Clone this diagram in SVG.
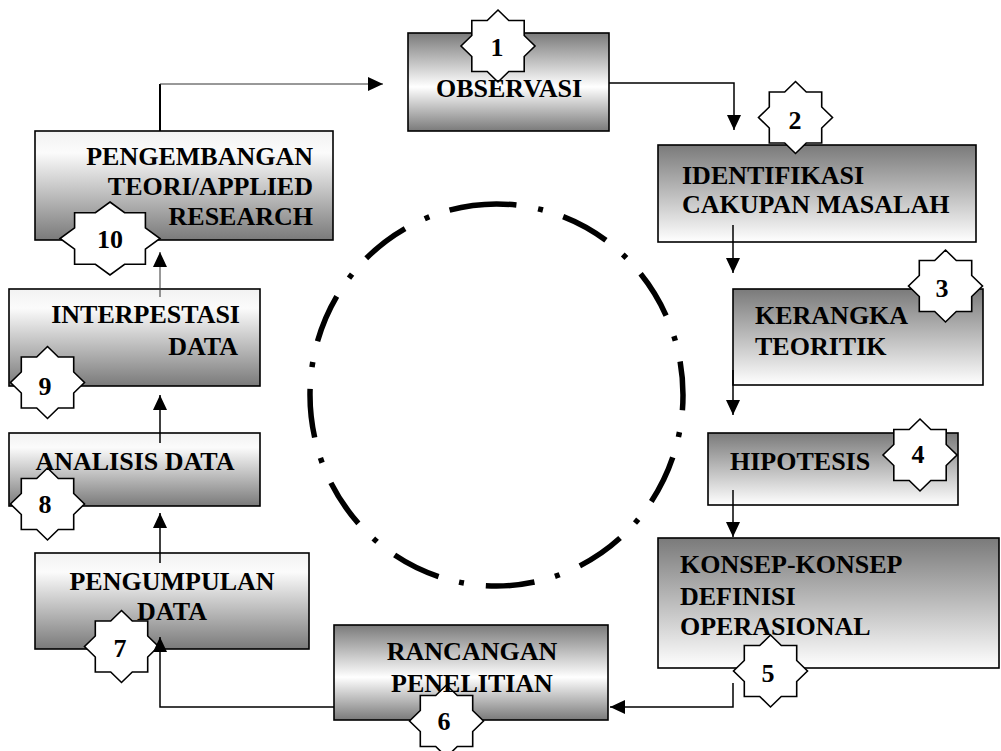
<svg xmlns="http://www.w3.org/2000/svg" xmlns:xlink="http://www.w3.org/1999/xlink" width="1001" height="751" viewBox="0 0 1001 751">
<style>
.box{stroke:#000;stroke-width:1.6}
.star{fill:#fff;stroke:#000;stroke-width:1.6}
.lbl{font-family:"Liberation Serif","Times New Roman",serif;font-weight:bold;font-size:26px;fill:#000}
.num{font-family:"Liberation Serif","Times New Roman",serif;font-weight:bold;font-size:26px;fill:#000;text-anchor:middle}
.con{fill:none;stroke:#000;stroke-width:1.5}
.thin{fill:none;stroke:#333;stroke-width:1}
</style>
<defs>
<linearGradient id="gSym" x1="0" y1="0" x2="0" y2="1">
<stop offset="0" stop-color="#7a7a7a"/><stop offset="0.55" stop-color="#ffffff"/><stop offset="1" stop-color="#7a7a7a"/>
</linearGradient>
<linearGradient id="gDown" x1="0" y1="0" x2="0" y2="1">
<stop offset="0" stop-color="#7a7a7a"/><stop offset="1" stop-color="#ffffff"/>
</linearGradient>
<linearGradient id="gUp" x1="0" y1="0" x2="0" y2="1">
<stop offset="0" stop-color="#f2f2f2"/><stop offset="0.2" stop-color="#fbfbfb"/><stop offset="1" stop-color="#7a7a7a"/>
</linearGradient>
<marker id="arr" markerUnits="userSpaceOnUse" markerWidth="16" markerHeight="16" refX="15" refY="7" orient="auto">
<path d="M0,0 L15,7 L0,14 Z" fill="#000"/>
</marker>
<polygon id="star" class="star" points="0,-36 10.8,-25.5 26.2,-25.5 26.2,-10.5 37,0 26.2,10.5 26.2,25.5 10.8,25.5 0,36 -10.8,25.5 -26.2,25.5 -26.2,10.5 -37,0 -26.2,-10.5 -26.2,-25.5 -10.8,-25.5"/>
<polygon id="starW" class="star" points="0,-36.5 14.6,-25.8 35.4,-25.8 35.4,-10.7 50,0 35.4,10.7 35.4,25.8 14.6,25.8 0,36.5 -14.6,25.8 -35.4,25.8 -35.4,10.7 -50,0 -35.4,-10.7 -35.4,-25.8 -14.6,-25.8"/>
</defs>
<rect width="1001" height="751" fill="#fff"/>

<path id="cycle" d="M496.5,204 A186.5,191 0 1 1 496.5,586 A186.5,191 0 1 1 496.5,204" fill="none" stroke="#000" stroke-width="5.5" stroke-dasharray="49 22 5 21.25" stroke-dashoffset="29"/>

<g id="node1">
<rect class="box" x="408" y="33" width="201" height="98" fill="url(#gSym)"/>
<use xlink:href="#star" href="#star" x="498" y="46"/>
<text class="lbl" x="509" y="97" text-anchor="middle">OBSERVASI</text>
<text class="num" x="497" y="56">1</text>
</g>
<g id="node2">
<rect class="box" x="658" y="145" width="318" height="97" fill="url(#gDown)"/>
<use xlink:href="#star" href="#star" x="795.5" y="117.5"/>
<text class="lbl" x="682" y="184">IDENTIFIKASI</text>
<text class="lbl" x="682" y="213">CAKUPAN MASALAH</text>
<text class="num" x="795" y="129">2</text>
</g>
<g id="node3">
<rect class="box" x="733" y="289" width="250" height="96" fill="url(#gDown)"/>
<use xlink:href="#star" href="#star" x="945.5" y="286"/>
<text class="lbl" x="755" y="324">KERANGKA</text>
<text class="lbl" x="755" y="355">TEORITIK</text>
<text class="num" x="942" y="297">3</text>
</g>
<g id="node4">
<rect class="box" x="708" y="433" width="250" height="72" fill="url(#gDown)"/>
<use xlink:href="#star" href="#star" x="920" y="455"/>
<text class="lbl" x="730" y="470">HIPOTESIS</text>
<text class="num" x="918" y="463">4</text>
</g>
<g id="node5">
<rect class="box" x="658" y="538" width="341" height="130" fill="url(#gDown)"/>
<use xlink:href="#star" href="#star" x="770.5" y="671"/>
<text class="lbl" x="680" y="573">KONSEP-KONSEP</text>
<text class="lbl" x="680" y="605">DEFINISI</text>
<text class="lbl" x="680" y="635">OPERASIONAL</text>
<text class="num" x="768" y="682">5</text>
</g>
<g id="node6">
<rect class="box" x="334" y="625" width="274" height="95" fill="url(#gSym)"/>
<use xlink:href="#star" href="#star" x="446.5" y="721"/>
<text class="lbl" x="472" y="660" text-anchor="middle">RANCANGAN</text>
<text class="lbl" x="472" y="692" text-anchor="middle">PENELITIAN</text>
<text class="num" x="444" y="730">6</text>
</g>
<g id="node7">
<rect class="box" x="35" y="553" width="274" height="96" fill="url(#gUp)"/>
<use xlink:href="#star" href="#star" x="121.5" y="646.5"/>
<text class="lbl" x="172" y="590" text-anchor="middle">PENGUMPULAN</text>
<text class="lbl" x="172" y="620" text-anchor="middle">DATA</text>
<text class="num" x="120" y="657">7</text>
</g>
<g id="node8">
<rect class="box" x="9" y="433" width="251" height="73" fill="url(#gUp)"/>
<use xlink:href="#star" href="#star" x="47.5" y="504"/>
<text class="lbl" x="135" y="470" text-anchor="middle">ANALISIS DATA</text>
<text class="num" x="45" y="513">8</text>
</g>
<g id="node9">
<rect class="box" x="9" y="289" width="251" height="97" fill="url(#gUp)"/>
<use xlink:href="#star" href="#star" x="47.5" y="382.5"/>
<text class="lbl" x="240" y="323" text-anchor="end">INTERPESTASI</text>
<text class="lbl" x="238" y="355" text-anchor="end">DATA</text>
<text class="num" x="45" y="395">9</text>
</g>
<g id="node10">
<rect class="box" x="35" y="131" width="298" height="109" fill="url(#gUp)"/>
<use xlink:href="#starW" href="#starW" x="110" y="238.5"/>
<text class="lbl" x="313" y="165" text-anchor="end">PENGEMBANGAN</text>
<text class="lbl" x="313" y="195" text-anchor="end">TEORI/APPLIED</text>
<text class="lbl" x="313" y="225" text-anchor="end">RESEARCH</text>
<text class="num" x="110" y="248">10</text>
</g>

<g id="connectors">
<line class="con" x1="160" y1="131" x2="160" y2="84" style="stroke-width:2"/>
<polyline class="thin" points="160,84 383,84" marker-end="url(#arr)"/>
<polyline class="con" points="609,83 734,83 734,130" marker-end="url(#arr)"/>
<line class="con" x1="733" y1="225" x2="733" y2="273" marker-end="url(#arr)"/>
<line class="con" x1="733" y1="370" x2="733" y2="415" marker-end="url(#arr)"/>
<line class="con" x1="733" y1="490" x2="733" y2="537" marker-end="url(#arr)"/>
<polyline class="con" points="733,683 733,707 610,707" marker-end="url(#arr)"/>
<polyline class="con" points="334,707 160,707 160,637" marker-end="url(#arr)"/>
<line class="con" x1="160" y1="563" x2="160" y2="513" marker-end="url(#arr)"/>
<line class="con" x1="160" y1="443" x2="160" y2="395" marker-end="url(#arr)"/>
<line class="thin" x1="160" y1="297" x2="160" y2="252" marker-end="url(#arr)"/>
</g>
</svg>
